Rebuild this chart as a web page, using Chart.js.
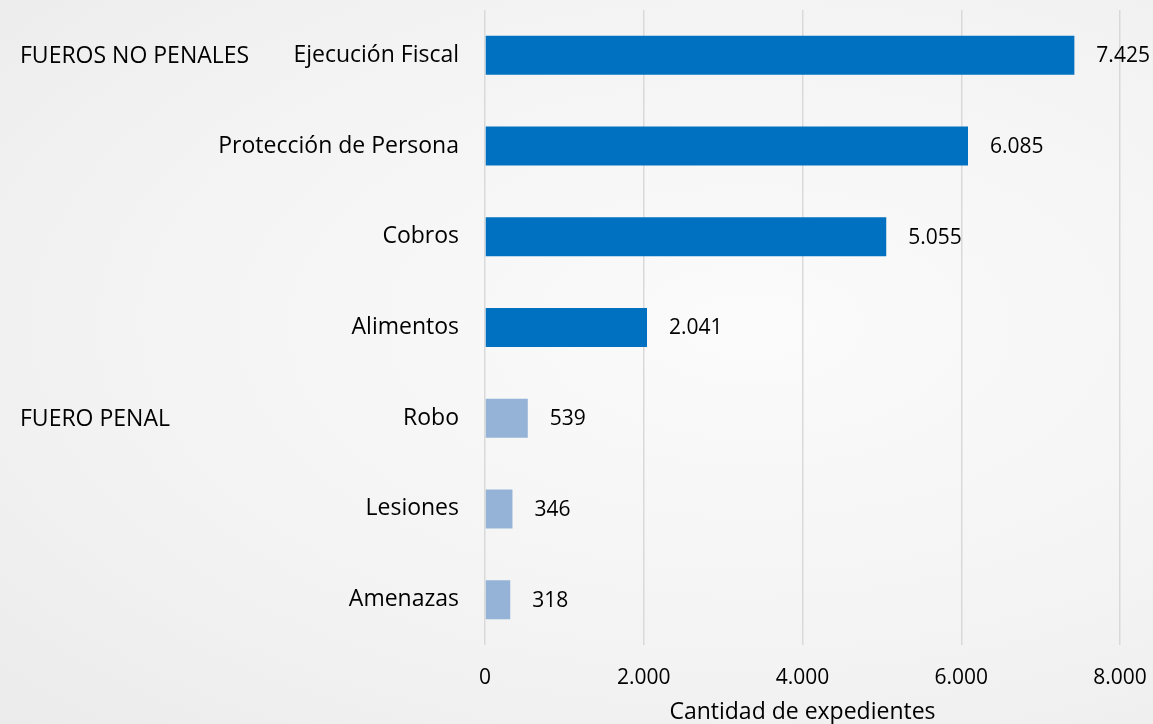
<!DOCTYPE html>
<html>
<head>
<meta charset="utf-8">
<script src="https://cdn.jsdelivr.net/npm/chart.js@4"></script>
<style>
  html, body { margin: 0; padding: 0; }
  body {
    width: 1153px; height: 724px; overflow: hidden;
    background: radial-gradient(ellipse at 65% 45%, #fbfbfb 0%, #f3f3f3 60%, #ebebeb 100%);
  }
  canvas { display: block; }
</style>
</head>
<body>
<canvas id="grafico" width="1153" height="724"></canvas>
<script>
// Datos
const categorias = ["Ejecución Fiscal", "Protección de Persona", "Cobros", "Alimentos", "Robo", "Lesiones", "Amenazas"];
const expedientes = [7425, 6085, 5055, 2041, 539, 346, 318];
const esPenal = [false, false, false, false, true, true, true];
const grupos = ["FUEROS NO PENALES", "FUERO PENAL"];
const gruposIndice = [0, 4];
const ticksX = [0, 2000, 4000, 6000, 8000];

const FUENTE = "'Open Sans', sans-serif";

// Formato con punto como separador de miles
const formatear = (n) => String(n).replace(/\B(?=(\d{3})+(?!\d))/g, ".");

// Etiquetas de valor al final de cada barra y rótulos de grupo a la izquierda
const etiquetasPlugin = {
  id: "etiquetas",
  afterDatasetsDraw(chart) {
    const { ctx } = chart;
    const meta = chart.getDatasetMeta(0);
    ctx.save();
    ctx.font = "21px " + FUENTE;
    ctx.fillStyle = "#000";
    ctx.textAlign = "left";
    ctx.textBaseline = "middle";
    meta.data.forEach((barra, i) => {
      ctx.fillText(formatear(expedientes[i]), barra.x + 22, barra.y + 1);
    });
    ctx.font = "23px " + FUENTE;
    const escalaY = chart.scales.y;
    grupos.forEach((g, i) => {
      ctx.fillText(g, 20, escalaY.getPixelForValue(gruposIndice[i]) + 1);
    });
    ctx.restore();
  },
};

const ctx = document.getElementById("grafico").getContext("2d");

new Chart(ctx, {
  type: "bar",
  data: {
    labels: categorias,
    datasets: [
      {
        label: "Cantidad de expedientes",
        data: expedientes,
        backgroundColor: esPenal.map((p) => (p ? "#95b3d7" : "#0070c0")),
        barPercentage: 0.86,
        categoryPercentage: 0.5,
      },
    ],
  },
  options: {
    indexAxis: "y",
    responsive: false,
    animation: false,
    layout: { padding: { top: 10, right: 33, bottom: 0, left: 0 } },
    plugins: {
      legend: { display: false },
      tooltip: { enabled: false },
    },
    scales: {
      x: {
        min: 0,
        max: 8000,
        afterBuildTicks: (escala) => {
          escala.ticks = ticksX.map((v) => ({ value: v }));
        },
        afterFit: (escala) => {
          escala.height = 79;
          escala.paddingLeft = 0;
          escala.paddingRight = 0;
        },
        grid: { color: "#d9d9d9", lineWidth: 1.5, drawTicks: false },
        border: { display: false },
        ticks: {
          color: "#000",
          padding: 20,
          maxRotation: 0,
          font: { family: FUENTE, size: 21 },
          callback: (v) => formatear(v),
        },
        title: {
          display: true,
          text: "Cantidad de expedientes",
          color: "#000",
          font: { family: FUENTE, size: 23, lineHeight: 1 },
          padding: { top: 0, bottom: 0 },
        },
      },
      y: {
        grid: { display: false, drawTicks: false },
        border: { display: false },
        afterFit: (escala) => {
          escala.width = 485;
          escala.paddingTop = 0;
          escala.paddingBottom = 0;
        },
        ticks: {
          color: "#000",
          padding: 26,
          font: { family: FUENTE, size: 23 },
        },
      },
    },
  },
  plugins: [etiquetasPlugin],
});
</script>
</body>
</html>
